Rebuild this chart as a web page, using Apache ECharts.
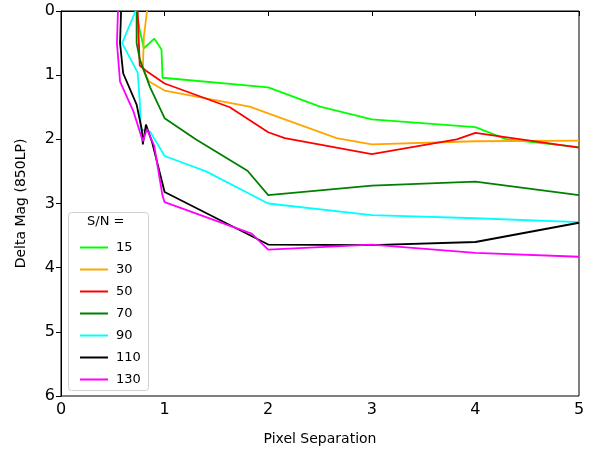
<!DOCTYPE html>
<html><head><meta charset="utf-8">
<script src="https://cdn.jsdelivr.net/npm/echarts@6/dist/echarts.min.js"></script>
<style>html,body{margin:0;padding:0;background:#fff}#c{width:593px;height:451px}</style>
</head><body><div id="c"></div>
<script>
const snLabels = ['15','30','50','70','90','110','130'];
const colors = ['#00ff00','#ffa500','#ff0000','#008000','#00ffff','#000000','#ff00ff'];
const xTicks = [0,1,2,3,4,5];
const yTicks = [0,1,2,3,4,5,6];

const sep15 = [0.73,0.76,0.8,0.9,0.97,0.98,2.0,2.5,3.0,4.0,4.3,5.0];
const mag15 = [0,0.3,0.58,0.43,0.6,1.04,1.19,1.49,1.69,1.81,2.0,2.12];
const sep30 = [0.83,0.8,0.79,0.85,1.0,1.82,2.66,3.0,4.0,5.0];
const mag30 = [0,0.4,0.9,1.1,1.24,1.49,1.98,2.08,2.03,2.02];
const sep50 = [0.74,0.76,0.82,1.0,1.63,2.0,2.16,3.0,3.82,4.0,5.0];
const mag50 = [0,0.85,0.93,1.13,1.5,1.89,1.98,2.23,2.0,1.9,2.13];
const sep70 = [0.73,0.73,0.76,0.86,1.0,1.3,1.8,2.0,3.0,4.0,5.0];
const mag70 = [0,0.5,0.75,1.19,1.67,2.0,2.49,2.87,2.72,2.66,2.87];
const sep90 = [0.72,0.59,0.74,0.76,0.77,0.86,1.0,1.4,2.0,3.0,4.0,5.0];
const mag90 = [0,0.5,0.96,1.4,1.85,1.88,2.26,2.5,3.0,3.18,3.23,3.29];
const sep110 = [0.58,0.57,0.6,0.73,0.78,0.79,0.82,0.88,1.0,2.0,3.0,4.0,5.0];
const mag110 = [0,0.5,0.97,1.46,1.85,2.08,1.77,2.05,2.82,3.64,3.65,3.6,3.3];
const sep130 = [0.55,0.54,0.57,0.7,0.79,0.83,0.9,0.98,1.0,1.84,2.0,3.0,4.0,5.0];
const mag130 = [0,0.5,1.1,1.57,2.03,1.84,2.1,2.88,2.98,3.47,3.72,3.64,3.77,3.83];

const seps = [sep15,sep30,sep50,sep70,sep90,sep110,sep130];
const mags = [mag15,mag30,mag50,mag70,mag90,mag110,mag130];

const chart = echarts.init(document.getElementById('c'));
const font = 'DejaVu Sans';
chart.setOption({
  animation:false,
  backgroundColor:'#fff',
  grid:{left:61,right:14,top:11,bottom:53,show:true,borderColor:'#000',borderWidth:1,backgroundColor:'transparent'},
  xAxis:{type:'value',min:0,max:5,interval:1,
    name:'Pixel Separation',nameLocation:'middle',nameGap:36,
    nameTextStyle:{fontFamily:font,fontSize:14,color:'#000'},
    axisLine:{show:true,lineStyle:{color:'#000',width:1}},
    axisTick:{show:true,length:5,lineStyle:{color:'#000'}},
    axisLabel:{fontFamily:font,fontSize:16,color:'#000',margin:6,formatter:v=>xTicks.includes(v)?String(v):''},
    splitLine:{show:false}},
  yAxis:{type:'value',min:0,max:6,interval:1,inverse:true,
    name:'Delta Mag (850LP)',nameLocation:'middle',nameGap:33,
    nameTextStyle:{fontFamily:font,fontSize:14,color:'#000'},
    axisLine:{show:true,lineStyle:{color:'#000',width:1}},
    axisTick:{show:true,length:5,lineStyle:{color:'#000'}},
    axisLabel:{fontFamily:font,fontSize:16,color:'#000',margin:6,formatter:v=>yTicks.includes(v)?String(v):''},
    splitLine:{show:false}},
  legend:{orient:'vertical',left:75,top:235,itemWidth:28,itemHeight:2,itemGap:7,icon:'rect',z:20,
    textStyle:{fontFamily:font,fontSize:13,color:'#000',padding:[0,0,0,3],lineHeight:15},
    data:snLabels},
  graphic:[
    {type:'rect',left:68,top:212,shape:{width:80,height:178,r:3},style:{fill:'#fff',stroke:'#d0d0d0',lineWidth:1},z:3},
    {type:'text',left:87,top:215,style:{text:'S/N =',font:'13px DejaVu Sans',fill:'#000'},z:21}
  ],
  series: snLabels.map((n,i)=>({
    name:n,type:'line',symbol:'none',color:colors[i],z:2,
    lineStyle:{width:1.8,color:colors[i]},
    data: seps[i].map((x,j)=>[x,mags[i][j]])
  }))
});
</script></body></html>
